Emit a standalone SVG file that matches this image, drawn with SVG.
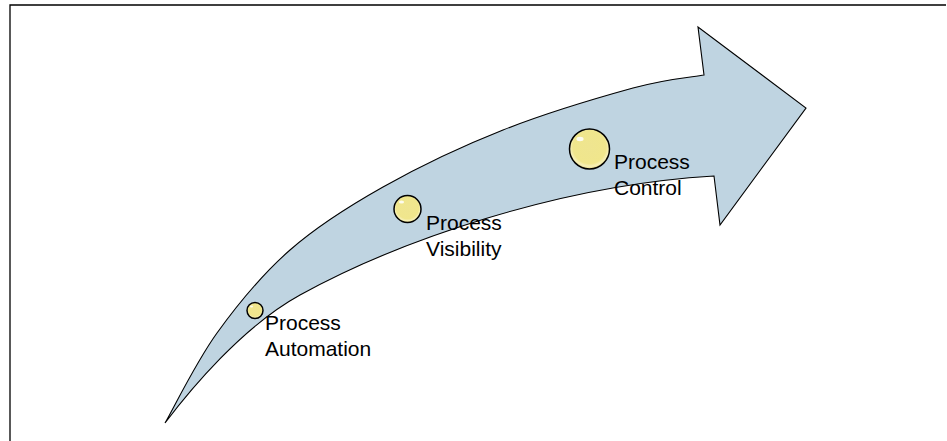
<svg xmlns="http://www.w3.org/2000/svg" width="947" height="441" viewBox="0 0 947 441">
<defs>
<style>
.frame{fill:none;stroke:#000;stroke-width:1.3}
.arrow{fill:#BFD4E1;stroke:#000;stroke-width:1.1;stroke-linejoin:miter}
.ball{fill:url(#ballGrad);stroke:#000;stroke-width:1.5}
.hl{fill:#fff;fill-opacity:0.85}
.lbl{font-family:"Liberation Sans",Arial,sans-serif;font-size:21px;fill:#000}
</style>
<radialGradient id="ballGrad" cx="0.5" cy="0.45" r="0.55">
<stop offset="0" stop-color="#EFE590"/>
<stop offset="0.75" stop-color="#F0E68C"/>
<stop offset="0.88" stop-color="#F7F0B8"/>
<stop offset="1" stop-color="#E3D47A"/>
</radialGradient>
</defs>
<rect width="947" height="441" fill="#fff"/>
<path class="frame" d="M10,441 V5 H946"/>
<g id="arrow">
<path class="arrow" d="M165,423 C173.7,408 196.2,361.8 217,333 C237.8,304.2 262.3,274.3 290,250 C317.7,225.7 347.5,207 383,187 C418.5,167 461.3,146.5 503,130 C544.7,113.5 599.7,97.2 633,88 C666.3,78.8 691.3,77.2 704,75 L698,27 L806,108 L720,225 L714,176 C560,185 400,240 300,295 C242,327 190,390 165,423 Z"/>
</g>
<g id="node-automation">
<circle class="ball" cx="255" cy="310.5" r="8"/>
<ellipse class="hl" cx="251.5" cy="306.5" rx="1.6" ry="1.1"/>
<text class="lbl" x="265" y="330">Process</text>
<text class="lbl" x="265" y="356">Automation</text>
</g>
<g id="node-visibility">
<circle class="ball" cx="407.5" cy="209" r="13.5"/>
<ellipse class="hl" cx="401.5" cy="202" rx="2.6" ry="1.6"/>
<text class="lbl" x="426" y="230">Process</text>
<text class="lbl" x="426" y="256">Visibility</text>
</g>
<g id="node-control">
<circle class="ball" cx="589.5" cy="149" r="20"/>
<ellipse class="hl" cx="580" cy="139" rx="3.6" ry="2.2"/>
<text class="lbl" x="614" y="169">Process</text>
<text class="lbl" x="614" y="195">Control</text>
</g>
<g id="connectors"></g>
</svg>
